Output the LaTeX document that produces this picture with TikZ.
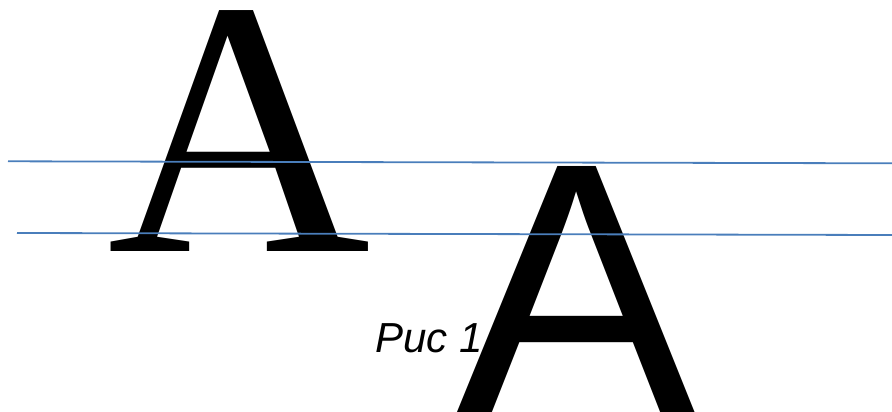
\documentclass[tikz,border=0pt]{standalone}
\usepackage{fontspec}
\setmainfont{Liberation Serif}
\newfontfamily\arialfont{Liberation Sans}
\definecolor{lineblue}{RGB}{74,126,187}

\begin{document}
\begin{tikzpicture}
    [x=1pt, y=-1pt,
    letter/.style={inner sep=0pt, outer sep=0pt, anchor=base west},
    guide/.style={line width=1.8pt, draw=lineblue}]
    \clip (0,0) rectangle (892,412);
        %% Letters
    \node[letter, font=\fontsize{365}{365}\selectfont] (serifA) at (107.5,251) {A};
    \node[letter, font=\arialfont\itshape\fontsize{42}{42}\selectfont] (caption) at (375,352) {Рис 1.2};
    \node[letter, font=\arialfont\fontsize{362}{362}\selectfont] (sansA) at (455,415) {A};

        %% Guide lines
    \coordinate (top west) at (8,161.3);
    \coordinate (top east) at (892,163.3);
    \coordinate (low west) at (17,233);
    \coordinate (low east) at (892,235);

        \draw[guide] (top west) -- (top east);
        \draw[guide] (low west) -- (low east);
\end{tikzpicture}
\end{document}
